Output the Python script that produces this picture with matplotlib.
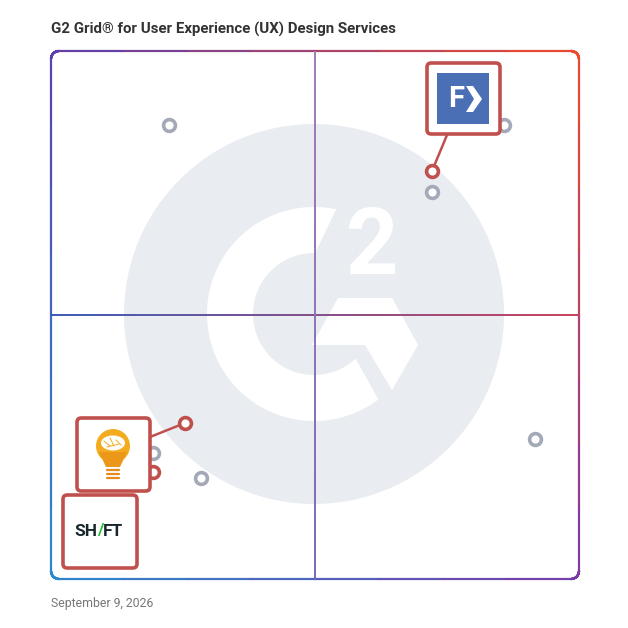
import numpy as np
import matplotlib
matplotlib.use("Agg")
import matplotlib.pyplot as plt
from matplotlib.collections import LineCollection
from matplotlib.patches import Circle, Polygon, FancyBboxPatch, Rectangle, Ellipse

# product positions on the grid (0-100 on both axes)
x_vals = [22.3, 85.8, 72.2, 72.2, 25.4, 19.3, 19.3, 28.4, 91.7]
y_vals = [86.0, 86.0, 77.3, 73.3, 29.5, 23.9, 20.3, 19.1, 26.5]
highlight = [False, False, True, False, True, False, True, False, False]

title = "G2 Grid® for User Experience (UX) Design Services"
date_label = "September 9, 2026"

W = 628
fig = plt.figure(figsize=(6.28, 6.28), dpi=100)
L, T, S = 51, 51, 528  # plot box in pixels
ax = fig.add_axes([L / W, (W - T - S) / W, S / W, S / W])
ax.set_xlim(0, 100)
ax.set_ylim(0, 100)
ax.axis("off")


def px(x, y):
    # pixel (from top-left of image) -> data coords
    return (x - L) / S * 100, (T + S - y) / S * 100


def lerp(c1, c2, t):
    c1 = np.array(matplotlib.colors.to_rgb(c1))
    c2 = np.array(matplotlib.colors.to_rgb(c2))
    return c1 + (c2 - c1) * t


# background G2 logo
cx, cy = px(314, 314)
r = 190 / S * 100
ax.add_patch(Circle((cx, cy), r, color="#e9ecf0", zorder=0, lw=0))
ro, ri = 107 / S * 100, 61 / S * 100
a_out = np.radians(np.linspace(78, 307, 200))
a_in = np.radians(np.linspace(313, 89, 200))
ring = np.concatenate([
    np.c_[cx + ro * np.cos(a_out), cy + ro * np.sin(a_out)],
    np.c_[cx + ri * np.cos(a_in), cy + ri * np.sin(a_in)],
])
ax.add_patch(Polygon(ring, closed=True, color="white", lw=0, zorder=0.5))
chev = [px(312, 345), px(338, 298), px(392, 298), px(418, 345),
        px(392, 390), px(365, 345)]
ax.add_patch(Polygon(chev, closed=True, color="white", lw=0, zorder=0.5))
ax.text(*px(372, 249), "2", color="white", fontsize=66, fontweight="bold",
        ha="center", va="center", family="Roboto", zorder=0.6)

# gradient border with rounded corners
tl, tr, bl, br = "#5a3fb0", "#f04a2a", "#2a8ad0", "#7a3aa8"
rad = 8 / S * 100
pts = []
corners = [(100 - rad, 100 - rad, 0, 90), (rad, 100 - rad, 90, 180),
           (rad, rad, 180, 270), (100 - rad, rad, 270, 360)]
for ccx, ccy, a0, a1 in corners:
    a = np.radians(np.linspace(a0, a1, 20))
    pts.extend(zip(ccx + rad * np.cos(a), ccy + rad * np.sin(a)))
pts.append(pts[0])
pts = np.array(pts)
dense = []
for p0, p1 in zip(pts[:-1], pts[1:]):
    for t in np.linspace(0, 1, 8, endpoint=False):
        dense.append(p0 + (p1 - p0) * t)
dense.append(pts[0])
dense = np.array(dense)
segs = np.stack([dense[:-1], dense[1:]], axis=1)
cols = []
for s in segs:
    u, v = s.mean(axis=0) / 100
    top = lerp(tl, tr, u)
    bot = lerp(bl, br, u)
    cols.append(bot + (top - bot) * v)
ax.add_collection(LineCollection(segs, colors=cols, linewidths=1.6,
                                 zorder=1, capstyle="round", clip_on=False))

# midlines
xs = np.linspace(0, 100, 101)
hseg = np.stack([np.c_[xs[:-1], np.full(100, 50)], np.c_[xs[1:], np.full(100, 50)]], axis=1)
hcol = [lerp("#3a5ab8", "#c8405a", t) for t in np.linspace(0, 1, 100)]
ax.add_collection(LineCollection(hseg, colors=hcol, linewidths=1.4, zorder=1))
vseg = np.stack([np.c_[np.full(100, 50), xs[:-1]], np.c_[np.full(100, 50), xs[1:]]], axis=1)
vcol = [lerp("#7a68b8", "#a07cb8", t) for t in np.linspace(0, 1, 100)]
ax.add_collection(LineCollection(vseg, colors=vcol, linewidths=1.4, zorder=1))

# product points
for x, y, h in zip(x_vals, y_vals, highlight):
    ax.plot(x, y, "o", ms=8.5, mfc="white", mec="#c0504d" if h else "#a3a9b6",
            mew=2.6, zorder=3 if h else 2)

box_col = "#c0504d"


def logo_box(x0, y0, x1, y1):
    (a, b), (c, d) = px(x0, y1), px(x1, y0)
    ax.add_patch(FancyBboxPatch((a, b), c - a, d - b,
                                boxstyle="round,pad=0,rounding_size=0.8",
                                fc="white", ec=box_col, lw=2.6, zorder=5))


def connector(p0, p1):
    (a, b), (c, d) = px(*p0), px(*p1)
    ax.plot([a, c], [b, d], color=box_col, lw=1.8, zorder=2.5)


# Fx logo box
connector((447, 135), (432, 171))
logo_box(427, 63, 500, 134)
(a, b), (c, d) = px(437, 124), px(489, 73)
ax.add_patch(Rectangle((a, b), c - a, d - b, color="#4a6fb5", zorder=6, lw=0))
ax.text(*px(456, 99), "F", color="white", fontsize=21, fontweight="bold",
        family="Roboto", ha="center", va="center", zorder=7)
ax.add_patch(Polygon([px(466, 86), px(473, 86), px(482, 99), px(473, 112),
                      px(466, 112), px(474, 99)], closed=True, color="white",
                     lw=0, zorder=7))

# bulb logo box
connector((150, 437), (185, 423))
logo_box(77, 418, 150, 491)
bx, by = px(113, 446)
ax.add_patch(Circle((bx, by), 17 / S * 100, color="#f3ac20", zorder=6, lw=0))
ax.add_patch(Polygon([px(99, 452), px(127, 452), px(120, 467), px(106, 467)],
                     closed=True, color="#eb981a", lw=0, zorder=6))
for yy in (470, 474, 478):
    ax.plot(*zip(px(107, yy), px(119, yy)), color="#e88a1a", lw=1.6, zorder=6,
            solid_capstyle="round")
ex, ey = px(113, 443)
ax.add_patch(Ellipse((ex, ey), 24 / S * 100, 15 / S * 100, color="white",
                     lw=0, zorder=7))
for p0, p1 in [((104, 441), (110, 446)), ((110, 438), (114, 446)),
               ((116, 440), (121, 445)), ((107, 447), (119, 444))]:
    ax.plot(*zip(px(*p0), px(*p1)), color="#f3ac20", lw=0.7, zorder=8)

# SH/FT logo box
logo_box(63, 495, 137, 568)
ax.text(*px(97.5, 531), "SH", color="#17262e", fontsize=12.5, fontweight="bold",
        family="Roboto", ha="right", va="center", zorder=7)
ax.text(*px(100.5, 531), "/", color="#2bbf3a", fontsize=12.5, fontweight="bold",
        family="Roboto", ha="center", va="center", zorder=7)
ax.text(*px(103, 531), "FT", color="#17262e", fontsize=12.5, fontweight="bold",
        family="Roboto", ha="left", va="center", zorder=7)

fig.text(51 / W, 1 - 29 / W, title, fontsize=10.8, fontweight="bold",
         family="Roboto", color="#333333", ha="left", va="center")
fig.text(51 / W, 1 - 604 / W, date_label, fontsize=8.8, color="#777777",
         family="Roboto", ha="left", va="center")

fig.savefig("out.png", dpi=100, facecolor="white")
